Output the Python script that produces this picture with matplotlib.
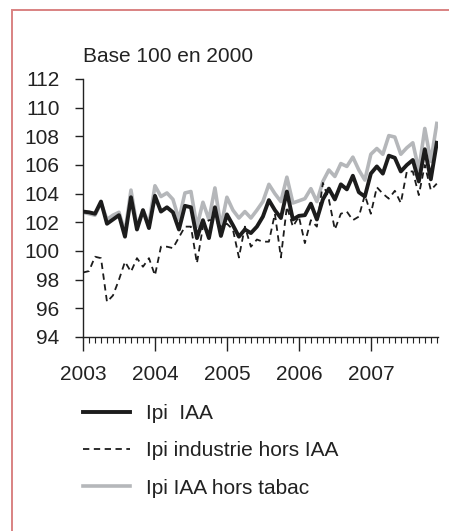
import numpy as np
import matplotlib
matplotlib.use('Agg')
from matplotlib import pyplot as plt
from matplotlib.patches import Rectangle
from matplotlib.ticker import MultipleLocator

# séries mensuelles, janvier 2003 -> décembre 2007 (base 100 en 2000)
years = ['2003', '2004', '2005', '2006', '2007']

ipi_iaa = [102.75, 102.7, 102.6, 103.45, 101.9, 102.2, 102.5, 101.0, 103.75, 101.5, 102.85, 101.6,
           103.85, 102.75, 103.05, 102.7, 101.5, 103.15, 103.05, 100.9, 102.15, 100.9, 103.05, 101.05,
           102.55, 101.8, 101.0, 101.5, 101.25, 101.7, 102.4, 103.55, 102.85, 102.3, 104.15, 102.2,
           102.45, 102.5, 103.3, 102.2, 103.6, 104.35, 103.6, 104.65, 104.3, 105.25, 104.1, 103.8,
           105.4, 105.9, 105.4, 106.65, 106.5, 105.55, 106.0, 106.35, 104.85, 107.1, 105.0, 107.55]

ipi_industrie = [98.5, 98.6, 99.6, 99.5, 96.45, 96.9, 98.0, 99.25, 98.55, 99.5, 98.9, 99.5,
                 98.3, 100.3, 100.3, 100.2, 100.95, 101.7, 101.7, 99.15, 101.7, 102.15, 102.15, 101.7,
                 101.9, 101.5, 99.55, 101.7, 100.3, 100.8, 100.65, 100.65, 102.6, 99.55, 103.1, 101.7,
                 102.4, 100.55, 102.15, 101.7, 104.75, 103.6, 101.5, 102.6, 102.75, 102.15, 102.4, 103.9,
                 102.6, 104.45, 104.0, 103.65, 104.2, 103.35, 105.55, 105.55, 103.9, 106.0, 104.25, 104.7]

ipi_iaa_hors_tabac = [102.7, 102.6, 102.5, 103.35, 102.2, 102.5, 102.7, 101.3, 104.25, 101.7, 102.85, 101.9,
                      104.55, 103.8, 104.05, 103.6, 102.2, 104.05, 104.15, 101.7, 103.4, 102.2, 104.4, 101.7,
                      103.75, 102.85, 102.3, 102.75, 102.3, 102.85, 103.45, 104.65, 104.0, 103.45, 105.15, 103.35,
                      103.5, 103.65, 104.35, 103.45, 104.85, 105.65, 105.2, 106.1, 105.9, 106.55, 105.65, 104.95,
                      106.75, 107.15, 106.75, 108.05, 107.95, 106.75, 107.2, 107.55, 105.65, 108.55, 106.25, 108.9]

months = np.arange(len(ipi_iaa))

plt.rcParams['font.family'] = ['Liberation Sans', 'DejaVu Sans']
text_color = '#222222'

fig = plt.figure(figsize=(4.49, 5.31), dpi=100)
ax = fig.add_axes([83 / 449, 1 - 337 / 531, 355 / 449, 258 / 531])

ax.plot(months, ipi_iaa_hors_tabac, color='#b5b7ba', linewidth=2.6, label='Ipi IAA hors tabac', zorder=2)
ax.plot(months, ipi_iaa, color='#1c1c1c', linewidth=2.8, label='Ipi  IAA', zorder=3)
ax.plot(months, ipi_industrie, color='#1c1c1c', linewidth=1.3, linestyle=(0, (3.5, 2.5)),
        label='Ipi industrie hors IAA', zorder=4)

ax.set_xlim(0, 59.2)
ax.set_ylim(94, 112)
ax.set_yticks(np.arange(94, 113, 2))
ax.set_xticks(np.arange(0, 60, 12))
ax.set_xticklabels(years)
ax.xaxis.set_minor_locator(MultipleLocator(1))

for side in ['top', 'right']:
    ax.spines[side].set_visible(False)
for side in ['left', 'bottom']:
    ax.spines[side].set_color('#222222')
    ax.spines[side].set_linewidth(1.0)

ax.tick_params(axis='y', direction='out', length=6, width=1, pad=11, labelsize=15,
               colors='#222222', labelcolor=text_color)
ax.tick_params(axis='x', which='major', direction='out', length=10, width=1, pad=10,
               labelsize=15, colors='#222222', labelcolor=text_color)
ax.tick_params(axis='x', which='minor', direction='out', length=4, width=0.8, colors='#222222')

fig.text(83 / 449, 1 - 57 / 531, 'Base 100 en 2000', fontsize=15, color=text_color,
         ha='left', va='center')

handles, labels = ax.get_legend_handles_labels()
order = [1, 2, 0]
leg = fig.legend([handles[i] for i in order], [labels[i] for i in order],
                 loc='upper left', bbox_to_anchor=(83 / 449, 1 - 404 / 531),
                 frameon=False, fontsize=15, handlelength=2.25, handletextpad=0.75,
                 labelspacing=0.88, borderpad=0, borderaxespad=0)
for t in leg.get_texts():
    t.set_color(text_color)

# cadre rouge (bords haut et gauche)
fig.add_artist(Rectangle((12 / 449, -0.1), 1.2, 1 - 10 / 531 + 0.1, transform=fig.transFigure,
                         fill=False, edgecolor='#d98282', linewidth=1.4, clip_on=False))

fig.savefig('out.png', dpi=100)
